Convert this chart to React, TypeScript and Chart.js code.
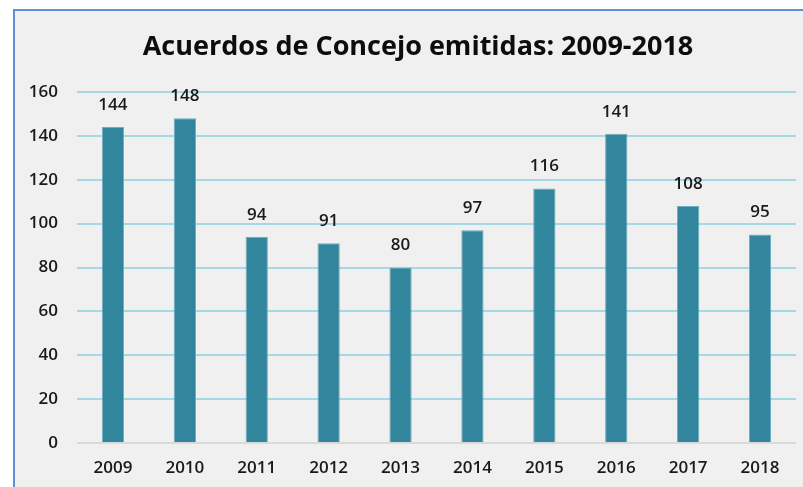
import React, { useEffect, useRef } from "react";
import { Chart, registerables } from "chart.js";

Chart.register(...registerables);

const years: string[] = ["2009", "2010", "2011", "2012", "2013", "2014", "2015", "2016", "2017", "2018"];
const acuerdos: number[] = [144, 148, 94, 91, 80, 97, 116, 141, 108, 95];
const titleText = "Acuerdos de Concejo emitidas: 2009-2018";
const yMin = 0;
const yMax = 160;
const yStep = 20;

const FONT = "'Open Sans', 'Noto Sans', sans-serif";

const labelPlugin = {
  id: "barLabels",
  afterDatasetsDraw(chart: any) {
    const { ctx } = chart;
    const meta = chart.getDatasetMeta(0);
    ctx.save();
    ctx.font = `600 17px ${FONT}`;
    ctx.fillStyle = "#1a1a1a";
    ctx.textAlign = "center";
    ctx.textBaseline = "middle";
    meta.data.forEach((bar: any, i: number) => {
      ctx.fillText(String(acuerdos[i]), bar.x, bar.y - 22);
    });
    // title
    ctx.font = `bold 27px ${FONT}`;
    ctx.fillStyle = "#0d0d0d";
    ctx.fillText(titleText, 403, 36);
    ctx.restore();
  },
};

export default function App() {
  const ref = useRef<HTMLCanvasElement>(null);
  useEffect(() => {
    document.body.style.margin = "0";
    const chart = new Chart(ref.current!, {
      type: "bar",
      data: {
        labels: years,
        datasets: [
          {
            data: acuerdos,
            backgroundColor: "#31859C",
            borderColor: "#6aafc2",
            borderWidth: 1,
            barPercentage: 0.31,
            categoryPercentage: 1,
          },
        ],
      },
      options: {
        animation: false,
        responsive: false,
        maintainAspectRatio: false,
        layout: { padding: { left: 0, right: 7, top: 81, bottom: 0 } },
        plugins: {
          legend: { display: false },
          tooltip: { enabled: false },
          title: { display: false },
        },
        scales: {
          x: {
            grid: { display: false, drawTicks: false },
            border: { display: false },
            ticks: {
              color: "#1a1a1a",
              font: { family: FONT, size: 17, weight: 600 },
              padding: 15,
              maxRotation: 0,
            },
            afterFit(scale: any) {
              scale.height = 44;
            },
          },
          y: {
            min: yMin,
            max: yMax,
            grid: {
              drawTicks: false,
              lineWidth: 2,
              color: (c: any) => (c.tick && c.tick.value === 0 ? "#d9d9d9" : "#a6d7e6"),
            },
            border: { display: false },
            ticks: {
              stepSize: yStep,
              color: "#1a1a1a",
              font: { family: FONT, size: 17, weight: 600 },
              padding: 19,
            },
            afterFit(scale: any) {
              scale.width = 62;
            },
          },
        },
      },
      plugins: [labelPlugin],
    });
    return () => chart.destroy();
  }, []);

  return (
    <div style={{ position: "absolute", left: 0, top: 0, width: 803, height: 487, background: "#ffffff" }}>
      <div
        style={{
          position: "absolute",
          left: 13,
          top: 9,
          width: 790,
          height: 478,
          boxSizing: "border-box",
          borderLeft: "2px solid #5b8fd6",
          borderTop: "2px solid #5b8fd6",
          background: "#f0f0f0",
        }}
      >
        <canvas ref={ref} width={788} height={476} style={{ display: "block" }} />
      </div>
    </div>
  );
}
